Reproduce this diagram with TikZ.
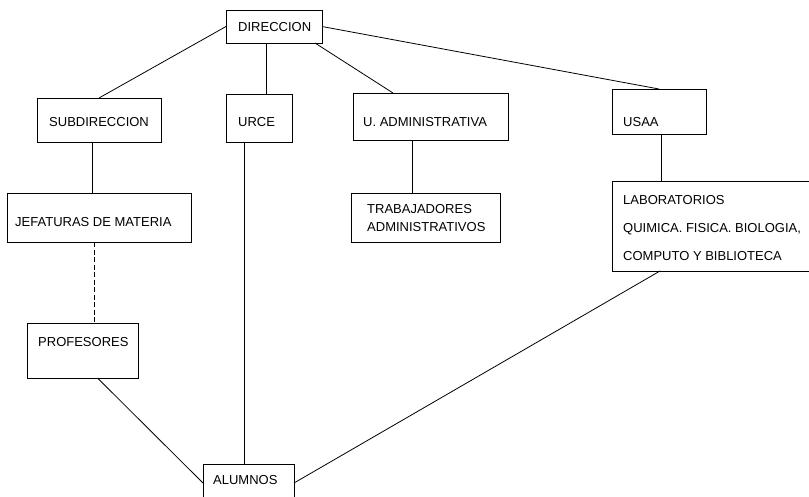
\documentclass[tikz,border=0pt]{standalone}
\usepackage{fontspec}
\setmainfont{Liberation Sans}
\begin{document}
\begin{tikzpicture}[x=1pt, y=-1pt,
  box/.style={draw, line width=1pt, rectangle, inner sep=0pt, outer sep=0pt},
  lbl/.style={anchor=west, inner sep=0pt, text height=9.3pt, text depth=0pt,
              font=\fontsize{13}{15}\selectfont},
  link/.style={line width=0.8pt},
  dashlink/.style={line width=0.6pt, dash pattern=on 5pt off 2.5pt}]
\useasboundingbox (0,0) rectangle (809,496);
\clip (0,0) rectangle (809,496);

% boxes of the organisation chart
\node[box, minimum width=96pt,  minimum height=33pt] (dir)  at (274,26.5)  {};
\node[box, minimum width=124pt, minimum height=44pt] (sub)  at (99,120)    {};
\node[box, minimum width=66pt,  minimum height=48pt] (urce) at (259,118)   {};
\node[box, minimum width=155pt, minimum height=47pt] (uadm) at (430.5,116.5) {};
\node[box, minimum width=94pt,  minimum height=45pt] (usaa) at (659,111.5) {};
\node[box, minimum width=184pt, minimum height=49pt] (jef)  at (99,217.5)  {};
\node[box, minimum width=149pt, minimum height=49pt] (trab) at (425.5,217.5) {};
\node[box, minimum width=111pt, minimum height=55pt] (prof) at (82.5,350.5) {};
\node[box, minimum width=202pt, minimum height=90pt] (lab)  at (713,226)   {};
\node[box, minimum width=91pt,  minimum height=38pt] (alum) at (248.5,483) {};

% box texts
\node[lbl] (tdir)  at (238,27)  {DIRECCION};
\node[lbl] (tsub)  at (49,122)  {SUBDIRECCION};
\node[lbl] (turce) at (238,122) {URCE};
\node[lbl] (tuadm) at (363,122) {U. ADMINISTRATIVA};
\node[lbl] (tusaa) at (623,122) {USAA};
\node[lbl] (tjef)  at (15,222)  {JEFATURAS DE MATERIA};
\node[lbl] (ttra1) at (367,209) {TRABAJADORES};
\node[lbl] (ttra2) at (367,227) {ADMINISTRATIVOS};
\node[lbl] (tprof) at (38,342)  {PROFESORES};
\node[lbl] (tlab1) at (623,200) {LABORATORIOS};
\node[lbl] (tlab2) at (623,228) {QUIMICA. FISICA. BIOLOGIA,};
\node[lbl] (tlab3) at (623,256) {COMPUTO Y BIBLIOTECA};
\node[lbl] (talum) at (213,480) {ALUMNOS};

% connectors
\draw[link] (dir.west) -- (sub.north);
\draw[link] ([xshift=-8pt]dir.south) -- ([xshift=-8pt]dir.south |- urce.north);
\draw[link] ([xshift=-7pt]dir.south east) -- ([xshift=40pt]uadm.north west);
\draw[link] (dir.east) -- (usaa.north);
\draw[link] ([xshift=-7pt]sub.south) -- ([xshift=-7pt]sub.south |- jef.north);
\draw[dashlink] ([xshift=-5pt]jef.south) -- ([xshift=-5pt]jef.south |- prof.north);
\draw[link] ([xshift=-15pt]urce.south) -- ([xshift=-15pt]urce.south |- alum.north);
\draw[link] ([xshift=-18pt]uadm.south) -- ([xshift=-18pt]uadm.south |- trab.north);
\draw[link] ([xshift=2pt]usaa.south) -- ([xshift=2pt]usaa.south |- lab.north);
\draw[link] ([xshift=15pt]prof.south) -- (alum.west);
\draw[link] ([xshift=48pt]lab.south west) -- (alum.east);
\end{tikzpicture}
\end{document}
